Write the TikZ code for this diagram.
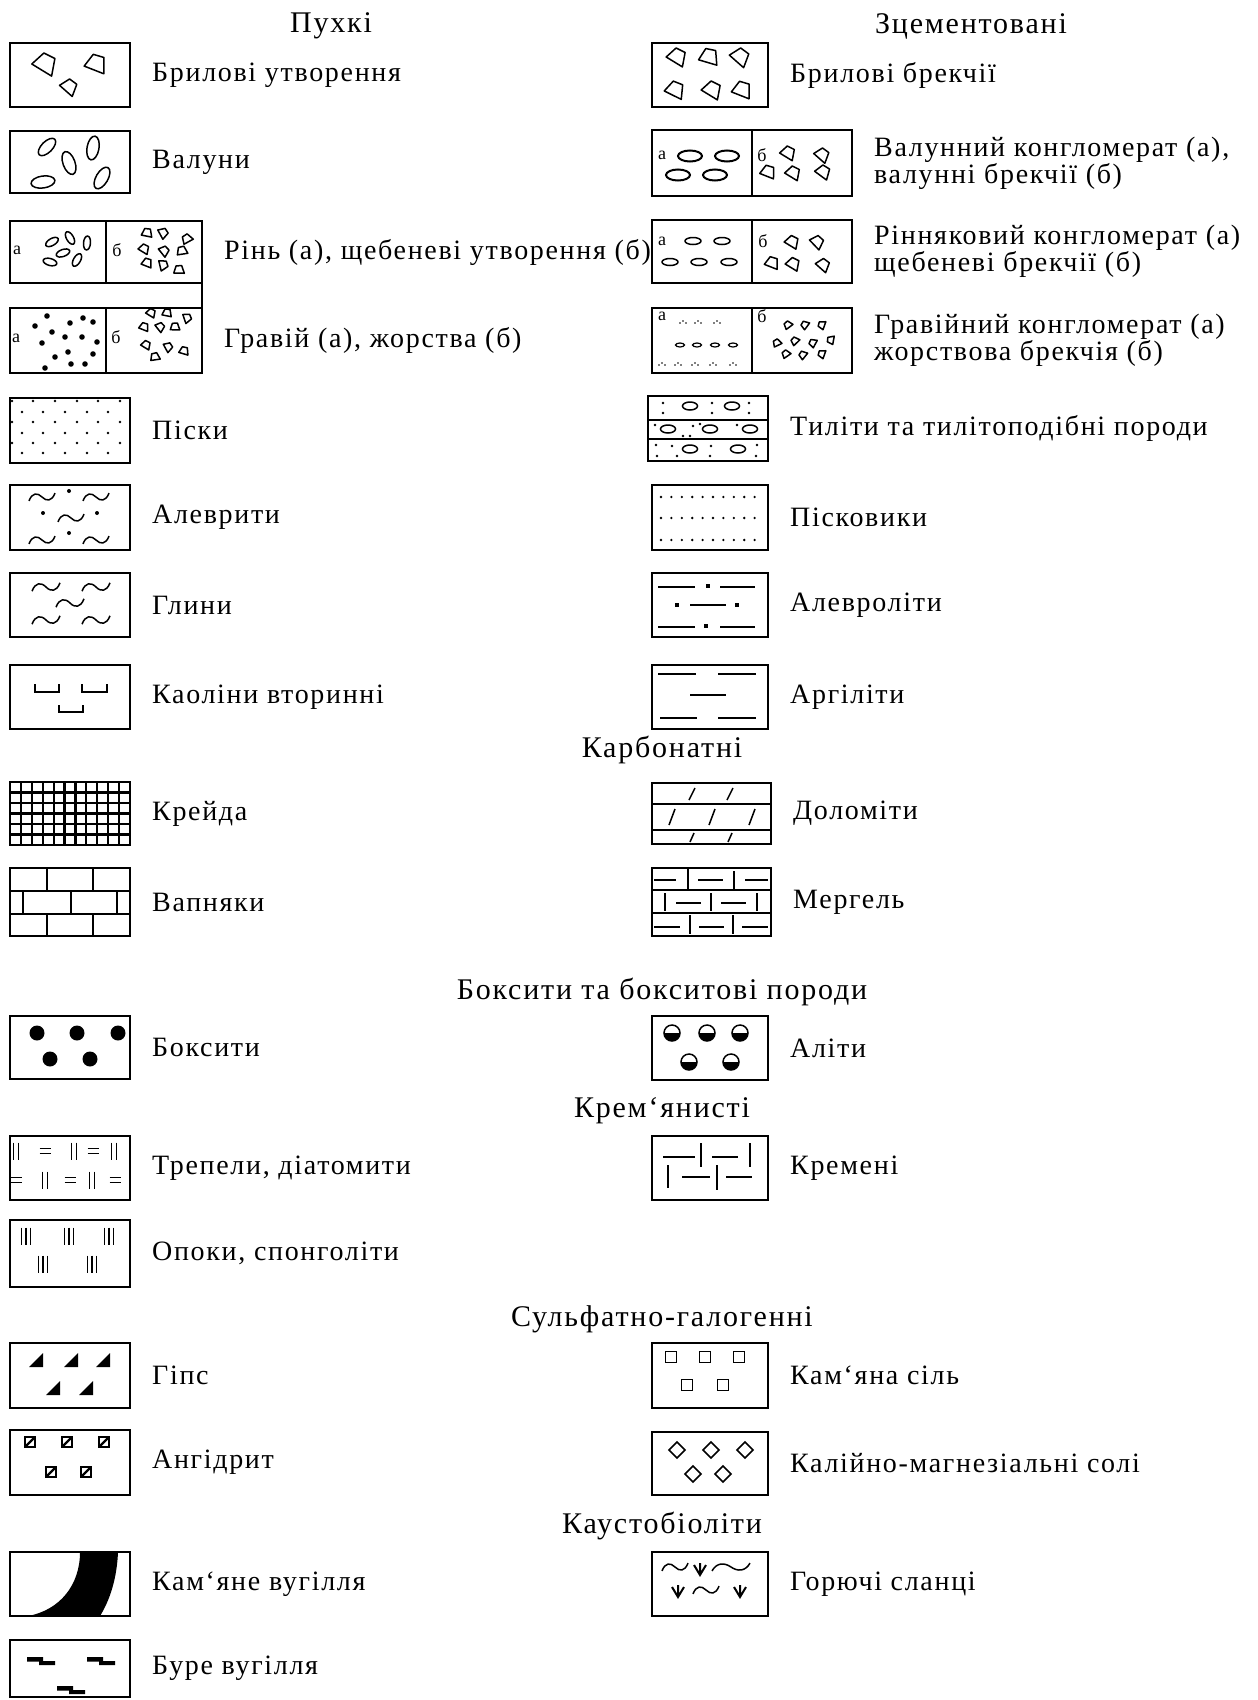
\documentclass[tikz,border=0pt]{standalone}
\usepackage{fontspec}
\setmainfont[LetterSpace=6]{Liberation Serif}
\usetikzlibrary{positioning}

\begin{document}
\begin{tikzpicture}[x=1pt, y=-1pt,
    node distance=22pt,
    legbox/.style={rectangle, draw, line width=2.2pt, inner sep=0pt, outer sep=0pt,
                   minimum width=120pt, minimum height=64pt},
    widebox/.style={legbox, minimum width=192pt},
    rbox/.style={legbox, minimum width=116pt},
    rwide/.style={legbox, minimum width=200pt},
    lbl/.style={inner sep=0pt, font=\fontsize{28}{24}\selectfont, align=left},
    hdr/.style={inner sep=0pt, font=\fontsize{30}{30}\selectfont},
    sub/.style={inner sep=0pt, font=\fontsize{18}{18}\selectfont},
    pat/.style={line width=1.5pt},
    thin/.style={line width=1.2pt},
    clast/.pic={\draw[pat, line join=round] (-1.2,0) -- (-0.1,-1) -- (0.9,-0.5) -- (0.6,1.1) -- cycle;},
    pebble/.pic={\draw[pat] (0,0) ellipse [x radius=1, y radius=0.5];},
    wave/.pic={\draw[pat] (-1,0.3) .. controls (-0.75,-0.35) and (-0.35,-0.35) .. (0,0)
                .. controls (0.35,0.35) and (0.75,0.35) .. (1,-0.3);},
    bars/.pic={\draw[line width=1.8pt] (-2.5,-8.5) -- (-2.5,8.5) (2.5,-8.5) -- (2.5,8.5);},
    eqs/.pic={\draw[line width=1.8pt] (-5.5,-2.5) -- (5.5,-2.5) (-5.5,2.5) -- (5.5,2.5);},
    tribar/.pic={\draw[line width=1.8pt] (-4.5,-8.5) -- (-4.5,8.5) (0,-8.5) -- (0,8.5) (4.5,-8.5) -- (4.5,8.5);},
    vee/.pic={\draw[line width=2pt] (-6,-5) -- (0,5) -- (6,-5) (0,-7) -- (0,5);}
  ]
  \useasboundingbox (0,0) rectangle (1258,1700);

  % headers
  \node[hdr] (hLoose) at (331,26) {Пухкі};
  \node[hdr] (hCem) at (971,26) {Зцементовані};
  \node[hdr] (hCarb) at (662,750) {Карбонатні};
  \node[hdr] (hBaux) at (662,992) {Боксити та бокситові породи};
  \node[hdr] (hSil) at (662,1111) {Крем`янисті};
  \node[hdr] (hSulf) at (662,1319) {Сульфатно-галогенні};
  \node[hdr] (hCaust) at (662,1526) {Каустобіоліти};

  % left column boxes
  \node[legbox] (b1) at (70,75) {};
  \node[legbox, minimum height=62pt] (b2) at (70,162) {};
  \node[widebox, minimum height=62pt] (b3) at (106,252) {};
  \node[widebox, minimum height=65pt] (b4) at (106,340.5) {};
  \node[legbox, minimum height=65pt] (b5) at (70,430.5) {};
  \node[legbox, minimum height=65pt] (b6) at (70,517.5) {};
  \node[legbox] (b7) at (70,605) {};
  \node[legbox] (b8) at (70,697) {};
  \node[legbox, minimum height=63pt] (b9) at (70,813.5) {};
  \node[legbox, minimum height=68pt] (b10) at (70,902) {};
  \node[legbox, minimum height=63pt] (b11) at (70,1047.5) {};
  \node[legbox] (b12) at (70,1168) {};
  \node[legbox, minimum height=67pt] (b13) at (70,1253.5) {};
  \node[legbox, minimum height=65pt] (b14) at (70,1375.5) {};
  \node[legbox, minimum height=65pt] (b15) at (70,1462.5) {};
  \node[legbox] (b16) at (70,1584) {};
  \node[legbox, minimum height=57pt] (b17) at (70,1668.5) {};

  % right column boxes
  \node[rbox] (c1) at (710,75) {};
  \node[rwide, minimum height=66pt] (c2) at (752,163) {};
  \node[rwide, minimum height=63pt] (c3) at (752,251.5) {};
  \node[rwide, minimum height=65pt] (c4) at (752,340.5) {};
  \node[legbox, minimum height=65pt] (c5) at (708,428.5) {};
  \node[rbox, minimum height=65pt] (c6) at (710,517.5) {};
  \node[rbox] (c7) at (710,605) {};
  \node[rbox] (c8) at (710,697) {};
  \node[legbox, minimum width=119pt, minimum height=61pt] (c9) at (711.5,813.5) {};
  \node[legbox, minimum width=119pt, minimum height=68pt] (c10) at (711.5,902) {};
  \node[rbox] (c11) at (710,1048) {};
  \node[rbox] (c12) at (710,1168) {};
  \node[rbox, minimum height=65pt] (c14) at (710,1375.5) {};
  \node[rbox, minimum height=63pt] (c15) at (710,1463.5) {};
  \node[rbox] (c16) at (710,1584) {};

  % labels
  \node[lbl, right=of b1] (t1) {Брилові утворення};
  \node[lbl, right=of b2] (t2) {Валуни};
  \node[lbl, right=of b3] (t3) {Рінь (а), щебеневі утворення (б)};
  \node[lbl, right=of b4] (t4) {Гравій (а), жорства (б)};
  \node[lbl, right=of b5] (t5) {Піски};
  \node[lbl, right=of b6] (t6) {Алеврити};
  \node[lbl, right=of b7] (t7) {Глини};
  \node[lbl, right=of b8] (t8) {Каоліни вторинні};
  \node[lbl, right=of b9] (t9) {Крейда};
  \node[lbl, right=of b10] (t10) {Вапняки};
  \node[lbl, right=of b11] (t11) {Боксити};
  \node[lbl, right=of b12] (t12) {Трепели, діатомити};
  \node[lbl, right=of b13] (t13) {Опоки, спонголіти};
  \node[lbl, right=of b14] (t14) {Гіпс};
  \node[lbl, right=of b15] (t15) {Ангідрит};
  \node[lbl, right=of b16] (t16) {Кам`яне вугілля};
  \node[lbl, right=of b17] (t17) {Буре вугілля};

  \node[lbl, right=of c1] (u1) {Брилові брекчії};
  \node[lbl, right=of c2] (u2) {Валунний конгломерат (а),\\валунні брекчії (б)};
  \node[lbl, right=of c3] (u3) {Рінняковий конгломерат (а)\\щебеневі брекчії (б)};
  \node[lbl, right=of c4] (u4) {Гравійний конгломерат (а)\\жорствова брекчія (б)};
  \node[lbl, right=of c5] (u5) {Тиліти та тилітоподібні породи};
  \node[lbl, right=of c6] (u6) {Пісковики};
  \node[lbl, right=of c7] (u7) {Алевроліти};
  \node[lbl, right=of c8] (u8) {Аргіліти};
  \node[lbl, right=of c9] (u9) {Доломіти};
  \node[lbl, right=of c10] (u10) {Мергель};
  \node[lbl, right=of c11] (u11) {Аліти};
  \node[lbl, right=of c12] (u12) {Кремені};
  \node[lbl, right=of c14] (u14) {Кам`яна сіль};
  \node[lbl, right=of c15] (u15) {Калійно-магнезіальні солі};
  \node[lbl, right=of c16] (u16) {Горючі сланці};

  % split boxes
  \draw[line width=1.6pt] (b3.north) -- (b3.south) (b4.north) -- (b4.south);
  \draw[line width=2.2pt] (b3.south east) -- (b4.north east);
  \draw[line width=1.4pt] (c2.north) -- (c2.south) (c3.north) -- (c3.south) (c4.north) -- (c4.south);
  \node[sub] (a3) at (17,250) {а};
  \node[sub] (s3) at (117,250) {б};
  \node[sub] (a4) at (16,338) {а};
  \node[sub] (s4) at (116,337) {б};
  \node[sub] (a2r) at (662,155) {а};
  \node[sub] (s2r) at (762,155) {б};
  \node[sub] (a3r) at (662,241) {а};
  \node[sub] (s3r) at (763,241) {б};
  \node[sub] (a4r) at (662,316) {а};
  \node[sub] (s4r) at (762,316) {б};

  % blocks and boulders
  \foreach \x/\y/\s/\r in {45/64/11/0, 69/87/8/-10, 96/64/10/10}
    \pic[scale=\s, rotate=\r] at (\x,\y) {clast};
  \foreach \x/\y/\s/\r in {47/147/11/45, 69/163/12/110, 93/148/12/80, 43/182/12/8, 102/178/12/60}
    \pic[scale=\s, rotate=\r] at (\x,\y) {pebble};
  \foreach \x/\y/\r in {677/57/0, 709/57/15, 740/57/-10, 675/90/5, 712/90/0, 742/90/10}
    \pic[scale=9, rotate=\r] at (\x,\y) {clast};
  \foreach \x/\y in {690/156, 727/156, 678/175, 715/175}
    \draw[line width=2pt] (\x,\y) ellipse [x radius=12, y radius=5.5];
  \foreach \x/\y/\r in {788/153/0, 822/155/-10, 768/172/10, 793/173/0, 823/172/-5}
    \pic[scale=7, rotate=\r] at (\x,\y) {clast};

  % pebbles and rubble
  \foreach \x/\y/\r in {52/242/30, 70/238/-60, 87/243/85, 63/253/20, 50/262/-15, 77/260/60}
    \pic[scale=7, rotate=\r] at (\x,\y) {pebble};
  \foreach \x/\y/\r in {147/233/20, 163/233/-30, 187/239/60, 144/249/0, 164/251/-20, 182/251/40, 147/263/10, 163/265/-45, 179/270/30}
    \pic[scale=5, rotate=\r] at (\x,\y) {clast};
  \foreach \x/\y in {693/241, 722/241, 670/262, 699/262, 729/262}
    \draw[pat] (\x,\y) ellipse [x radius=8, y radius=3.5];
  \foreach \x/\y/\r in {792/242/0, 817/242/-15, 772/263/10, 793/264/0, 823/265/-10}
    \pic[scale=6.5, rotate=\r] at (\x,\y) {clast};

  % gravel and grit
  \foreach \x/\y in {47/316, 83/318, 93/322, 35/326, 70/323, 52/332, 82/337, 42/343, 65/337, 97/342,
                     68/352, 55/357, 93/354, 71/364, 85/364, 45/368}
    \fill (\x,\y) circle[radius=2.8];
  \foreach \x/\y/\r in {151/313/0, 167/313/20, 187/318/-40, 144/327/10, 160/327/-20, 175/327/30, 146/345/0, 168/347/-30, 184/351/15, 155/357/40}
    \pic[scale=4.5, rotate=\r] at (\x,\y) {clast};
  \foreach \x/\y in {683/322, 698/322, 717/322, 662/364, 678/364, 695/364, 713/364, 733/364}
    \fill ({\x-3},{\y+1}) circle[radius=0.9] (\x,{\y-1}) circle[radius=0.9] ({\x+3},{\y+1}) circle[radius=0.9];
  \foreach \x in {680,697,715,733}
    \draw[thin] (\x,345) ellipse [x radius=4.5, y radius=2];
  \foreach \x/\y in {788/325, 805/325, 822/325, 777/343, 795/341, 813/343, 831/340, 786/354, 803/355, 822/354}
    \pic[scale=4, rotate=\x] at (\x,\y) {clast};

  % sands and sandstones
  \foreach \y in {401,422,443}
    \foreach \x in {12,33,55,77,98,120}
      \fill (\x,\y) circle[radius=1.4];
  \foreach \y in {412,433,453}
    \foreach \x in {22,43,65,87,108}
      \fill (\x,\y) circle[radius=1.4];
  \foreach \y in {497,518,540}
    \foreach \i in {0,...,9}
      \fill ({661+\i*10.4},\y) circle[radius=1.3];

  % tillites
  \draw[line width=1.8pt] (648,420) -- (768,420) (648,439) -- (768,439);
  \foreach \x/\y in {690/406, 732/406, 668/429, 710/429, 750/429, 690/449, 738/449}
    \draw[pat] (\x,\y) ellipse [x radius=7.5, y radius=4];
  \foreach \x/\y in {663/403, 663/413, 712/403, 712/413, 749/403, 749/413, 655/425, 693/426, 700/424,
                     737/425, 683/436, 690/436, 656/445, 657/456, 672/446, 677/456, 711/446, 710/456, 757/445, 756/456}
    \fill (\x,\y) circle[radius=1.3];

  % silts and clays
  \foreach \x/\y in {42/497, 96/497, 71/518, 42/540, 96/540}
    \pic[scale=13] at (\x,\y) {wave};
  \foreach \x/\y in {69/491, 43/513, 97/513, 69/533}
    \fill (\x,\y) circle[radius=2];
  \foreach \x/\y in {46/587, 96/587, 70/603, 46/620, 96/620}
    \pic[scale=14] at (\x,\y) {wave};
  \draw[thin] (658,587) -- (695,587) (720,587) -- (755,587) (690,605) -- (726,605)
              (658,627) -- (695,627) (720,627) -- (755,627);
  \foreach \x/\y in {708/586, 677/605, 737/605, 706/626}
    \fill ({\x-1.8},{\y-1.8}) rectangle ({\x+1.8},{\y+1.8});
  \draw[thin] (35,684) -- (35,692) -- (59,692) -- (59,684) (82,684) -- (82,692) -- (107,692) -- (107,684)
              (59,705) -- (59,712) -- (83,712) -- (83,705);
  \draw[thin] (658,674) -- (696,674) (718,674) -- (756,674) (690,695) -- (726,695)
              (660,718) -- (697,718) (718,718) -- (756,718);

  % carbonates
  \foreach \i in {1,...,10}
    \draw[line width=2.2pt] ({10+\i*120/11},782) -- ({10+\i*120/11},845);
  \foreach \j in {1,...,5}
    \draw[line width=2.2pt] (10,{782+\j*10.5}) -- (130,{782+\j*10.5});
  \draw[pat] (10,891) -- (130,891) (10,914) -- (130,914);
  \foreach \x in {47,93}
    \draw[line width=2pt] (\x,868) -- (\x,891) (\x,914) -- (\x,936);
  \foreach \x in {23,71,117}
    \draw[line width=2pt] (\x,891) -- (\x,914);
  \draw[pat] (652,804) -- (771,804);
  \draw[line width=2.4pt] (652,830) -- (771,830);
  \foreach \x in {692,730}
    \draw[pat] ({\x-3},800) -- ({\x+3},788) ({\x-2},842) -- ({\x+2},833);
  \foreach \x in {672,712,752}
    \draw[pat] ({\x-3},825) -- ({\x+3},809);
  \draw[pat] (652,890) -- (771,890) (652,913) -- (771,913);
  \draw[thin] (654,880) -- (676,880) (698,880) -- (723,880) (745,880) -- (768,880)
              (676,903) -- (701,903) (721,903) -- (746,903)
              (654,927) -- (680,927) (699,927) -- (724,927) (742,927) -- (768,927);
  \draw[line width=2.2pt] (688,869) -- (688,889) (665,893) -- (665,911) (711,893) -- (711,911) (733,915) -- (733,934);
  \draw[thin] (734,871) -- (734,889) (757,893) -- (757,911) (690,915) -- (690,934);

  % bauxites
  \foreach \x/\y in {37/1033, 77/1033, 118/1033, 50/1059, 90/1059}
    \fill (\x,\y) circle[radius=7.5];
  \foreach \x/\y in {672/1033, 707/1033, 740/1033, 689/1062, 731/1062} {
    \draw[pat] (\x,\y) circle[radius=8];
    \begin{scope}
      \clip ({\x-9},\y) rectangle ({\x+9},{\y+9});
      \fill (\x,\y) circle[radius=8];
    \end{scope}
  }

  % siliceous
  \foreach \x/\y in {16/1151, 74/1151, 114/1151, 45/1180, 92/1180}
    \pic at (\x,\y) {bars};
  \foreach \x/\y in {45/1151, 93/1151, 16/1180, 70/1180, 115/1180}
    \pic at (\x,\y) {eqs};
  \foreach \x/\y in {26/1236, 69/1236, 109/1236, 43/1264, 92/1264}
    \pic at (\x,\y) {tribar};
  \draw[thin] (663,1157) -- (695,1157) (712,1157) -- (738,1157) (682,1177) -- (710,1177) (726,1177) -- (752,1177)
              (750,1143) -- (750,1167) (717,1165) -- (717,1190);
  \draw[line width=2.2pt] (701,1143) -- (701,1167) (668,1165) -- (668,1188);

  % sulphates and salts
  \foreach \x/\y in {36/1360, 71/1360, 103/1360, 53/1388, 86/1388}
    \fill ({\x-7},{\y+7}) -- ({\x+7},{\y+7}) -- ({\x+7},{\y-7}) -- cycle;
  \foreach \x/\y in {30/1442, 67/1442, 104/1442, 51/1472, 86/1472} {
    \draw[thin] ({\x-5},{\y-5}) rectangle ({\x+5},{\y+5});
    \draw[line width=2.2pt] ({\x-5},{\y+5}) -- ({\x+5},{\y-5});
  }
  \foreach \x/\y in {671/1357, 705/1357, 739/1357, 687/1385, 723/1385}
    \draw[pat] ({\x-5.5},{\y-5.5}) rectangle ({\x+5.5},{\y+5.5});
  \foreach \x/\y in {677/1450, 711/1450, 745/1450, 693/1474, 723/1474}
    \draw[pat] ({\x-8},\y) -- (\x,{\y-8}) -- ({\x+8},\y) -- (\x,{\y+8}) -- cycle;

  % coals and shales
  \fill (28,1616) .. controls (60,1610) and (80,1585) .. (80,1552) -- (118,1552)
        .. controls (117,1578) and (110,1600) .. (100,1616) -- cycle;
  \foreach \x/\y in {41/1661, 101/1661, 71/1690}
    \fill ({\x-14},{\y-4}) rectangle ({\x+2},{\y+0.5}) ({\x-2},\y) rectangle ({\x+14},{\y+4});
  \pic[scale=13] at (675,1567) {wave};
  \pic[xscale=19, yscale=13] at (731,1567) {wave};
  \pic[scale=13] at (706,1590) {wave};
  \foreach \x/\y in {700/1570, 678/1592, 740/1592}
    \pic at (\x,\y) {vee};
\end{tikzpicture}
\end{document}
